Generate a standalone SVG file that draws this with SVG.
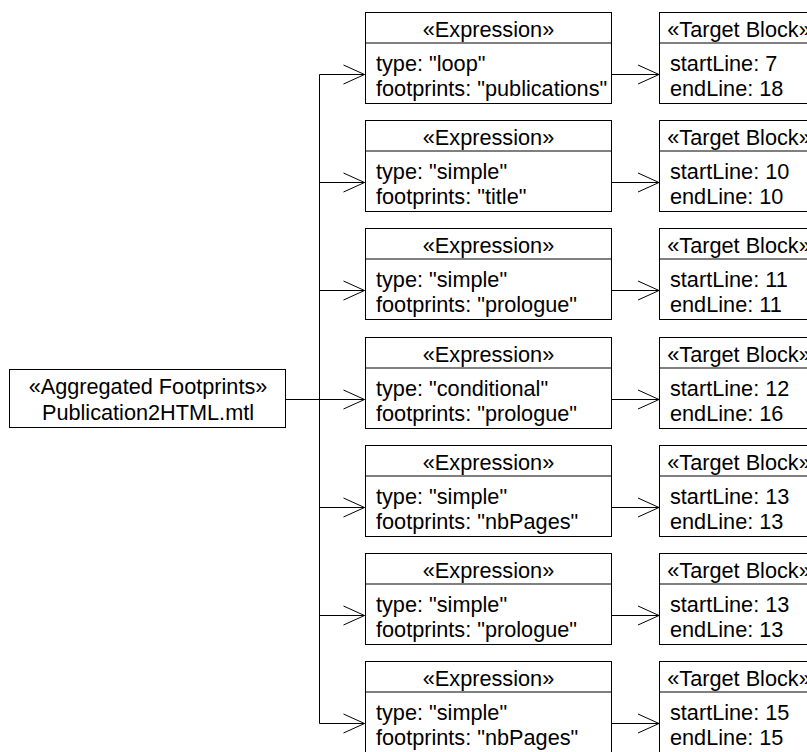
<svg xmlns="http://www.w3.org/2000/svg" width="807" height="752" viewBox="0 0 807 752">
<style>
.box{fill:#fff;stroke:#000;stroke-width:1}
.t{font-family:"Liberation Sans",Arial,sans-serif;font-size:21.7px;fill:#000}
.c{text-anchor:middle}
.ln{fill:none;stroke:#000;stroke-width:1}
.src{fill:none;stroke:#000;stroke-width:2}
</style>
<defs>
<marker id="arr" markerUnits="userSpaceOnUse" markerWidth="24" markerHeight="22" refX="21" refY="10.5" orient="auto" overflow="visible">
<path d="M0,1 L21,10.5 L0,20" fill="none" stroke="#000" stroke-width="1"/>
</marker>
</defs>
<g id="connectors">
<polyline class="ln" points="286,399.5 319.5,399.5 319.5,74.5 364.5,74.5" marker-end="url(#arr)"/>
<polyline class="ln" points="286,399.5 319.5,399.5 319.5,182.5 364.5,182.5" marker-end="url(#arr)"/>
<polyline class="ln" points="286,399.5 319.5,399.5 319.5,290.5 364.5,290.5" marker-end="url(#arr)"/>
<polyline class="ln" points="286,399.5 319.5,399.5 364.5,399.5" marker-end="url(#arr)"/>
<polyline class="ln" points="286,399.5 319.5,399.5 319.5,507.5 364.5,507.5" marker-end="url(#arr)"/>
<polyline class="ln" points="286,399.5 319.5,399.5 319.5,615.5 364.5,615.5" marker-end="url(#arr)"/>
<polyline class="ln" points="286,399.5 319.5,399.5 319.5,723.5 364.5,723.5" marker-end="url(#arr)"/>
<line class="ln" x1="612" y1="74.5" x2="659" y2="74.5" marker-end="url(#arr)"/>
<line class="ln" x1="612" y1="182.5" x2="659" y2="182.5" marker-end="url(#arr)"/>
<line class="ln" x1="612" y1="290.5" x2="659" y2="290.5" marker-end="url(#arr)"/>
<line class="ln" x1="612" y1="399.5" x2="659" y2="399.5" marker-end="url(#arr)"/>
<line class="ln" x1="612" y1="507.5" x2="659" y2="507.5" marker-end="url(#arr)"/>
<line class="ln" x1="612" y1="615.5" x2="659" y2="615.5" marker-end="url(#arr)"/>
<line class="ln" x1="612" y1="723.5" x2="659" y2="723.5" marker-end="url(#arr)"/>
</g>
<g id="source">
<rect class="box" x="9.5" y="369.5" width="276" height="58"/>
<text class="t c" x="148" y="393.5">«Aggregated Footprints»</text>
<text class="t c" x="148" y="420">Publication2HTML.mtl</text>
</g>
<g id="expr1">
<rect class="box" x="365.5" y="12.5" width="246" height="91"/>
<line class="ln" x1="365.5" y1="43" x2="611.5" y2="43"/>
<text class="t c" x="488.5" y="36.5">«Expression»</text>
<text class="t" x="376" y="70.5">type: "loop"</text>
<text class="t" x="376" y="95.5">footprints: "publications"</text>
</g>
<g id="target1">
<rect class="box" x="659.5" y="12.5" width="156" height="91"/>
<line class="ln" x1="659.5" y1="43" x2="815.5" y2="43"/>
<text class="t c" x="739" y="36.5">«Target Block»</text>
<text class="t" x="670" y="70.5">startLine: 7</text>
<text class="t" x="670" y="95.5">endLine: 18</text>
</g>
<g id="expr2">
<rect class="box" x="365.5" y="120.5" width="246" height="91"/>
<line class="ln" x1="365.5" y1="151" x2="611.5" y2="151"/>
<text class="t c" x="488.5" y="144.5">«Expression»</text>
<text class="t" x="376" y="178.5">type: "simple"</text>
<text class="t" x="376" y="203.5">footprints: "title"</text>
</g>
<g id="target2">
<rect class="box" x="659.5" y="120.5" width="156" height="91"/>
<line class="ln" x1="659.5" y1="151" x2="815.5" y2="151"/>
<text class="t c" x="739" y="144.5">«Target Block»</text>
<text class="t" x="670" y="178.5">startLine: 10</text>
<text class="t" x="670" y="203.5">endLine: 10</text>
</g>
<g id="expr3">
<rect class="box" x="365.5" y="228.5" width="246" height="91"/>
<line class="ln" x1="365.5" y1="259" x2="611.5" y2="259"/>
<text class="t c" x="488.5" y="252.5">«Expression»</text>
<text class="t" x="376" y="286.5">type: "simple"</text>
<text class="t" x="376" y="311.5">footprints: "prologue"</text>
</g>
<g id="target3">
<rect class="box" x="659.5" y="228.5" width="156" height="91"/>
<line class="ln" x1="659.5" y1="259" x2="815.5" y2="259"/>
<text class="t c" x="739" y="252.5">«Target Block»</text>
<text class="t" x="670" y="286.5">startLine: 11</text>
<text class="t" x="670" y="311.5">endLine: 11</text>
</g>
<g id="expr4">
<rect class="box" x="365.5" y="337.5" width="246" height="91"/>
<line class="ln" x1="365.5" y1="368" x2="611.5" y2="368"/>
<text class="t c" x="488.5" y="361.5">«Expression»</text>
<text class="t" x="376" y="395.5">type: "conditional"</text>
<text class="t" x="376" y="420.5">footprints: "prologue"</text>
</g>
<g id="target4">
<rect class="box" x="659.5" y="337.5" width="156" height="91"/>
<line class="ln" x1="659.5" y1="368" x2="815.5" y2="368"/>
<text class="t c" x="739" y="361.5">«Target Block»</text>
<text class="t" x="670" y="395.5">startLine: 12</text>
<text class="t" x="670" y="420.5">endLine: 16</text>
</g>
<g id="expr5">
<rect class="box" x="365.5" y="445.5" width="246" height="91"/>
<line class="ln" x1="365.5" y1="476" x2="611.5" y2="476"/>
<text class="t c" x="488.5" y="469.5">«Expression»</text>
<text class="t" x="376" y="503.5">type: "simple"</text>
<text class="t" x="376" y="528.5">footprints: "nbPages"</text>
</g>
<g id="target5">
<rect class="box" x="659.5" y="445.5" width="156" height="91"/>
<line class="ln" x1="659.5" y1="476" x2="815.5" y2="476"/>
<text class="t c" x="739" y="469.5">«Target Block»</text>
<text class="t" x="670" y="503.5">startLine: 13</text>
<text class="t" x="670" y="528.5">endLine: 13</text>
</g>
<g id="expr6">
<rect class="box" x="365.5" y="553.5" width="246" height="91"/>
<line class="ln" x1="365.5" y1="584" x2="611.5" y2="584"/>
<text class="t c" x="488.5" y="577.5">«Expression»</text>
<text class="t" x="376" y="611.5">type: "simple"</text>
<text class="t" x="376" y="636.5">footprints: "prologue"</text>
</g>
<g id="target6">
<rect class="box" x="659.5" y="553.5" width="156" height="91"/>
<line class="ln" x1="659.5" y1="584" x2="815.5" y2="584"/>
<text class="t c" x="739" y="577.5">«Target Block»</text>
<text class="t" x="670" y="611.5">startLine: 13</text>
<text class="t" x="670" y="636.5">endLine: 13</text>
</g>
<g id="expr7">
<rect class="box" x="365.5" y="661.5" width="246" height="91"/>
<line class="ln" x1="365.5" y1="692" x2="611.5" y2="692"/>
<text class="t c" x="488.5" y="685.5">«Expression»</text>
<text class="t" x="376" y="719.5">type: "simple"</text>
<text class="t" x="376" y="744.5">footprints: "nbPages"</text>
</g>
<g id="target7">
<rect class="box" x="659.5" y="661.5" width="156" height="91"/>
<line class="ln" x1="659.5" y1="692" x2="815.5" y2="692"/>
<text class="t c" x="739" y="685.5">«Target Block»</text>
<text class="t" x="670" y="719.5">startLine: 15</text>
<text class="t" x="670" y="744.5">endLine: 15</text>
</g>
</svg>
